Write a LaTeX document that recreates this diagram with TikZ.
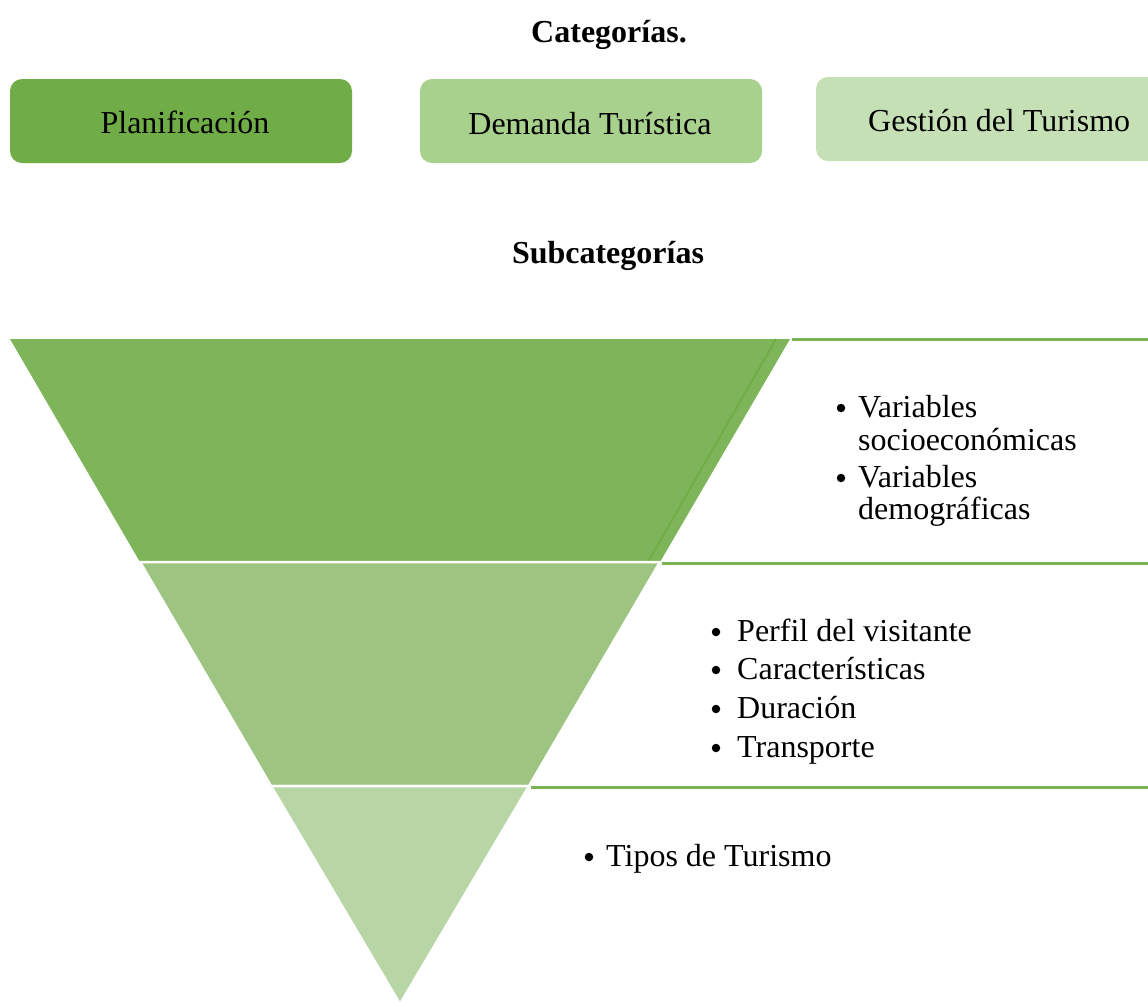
\documentclass[tikz,border=0pt]{standalone}
\usepackage{fontspec}
\usetikzlibrary{calc}
\setmainfont{Liberation Serif}
\definecolor{boxA}{HTML}{70AD47}
\definecolor{boxB}{HTML}{A9D18E}
\definecolor{boxC}{HTML}{C5E0B4}
\definecolor{bandA}{HTML}{7FB55A}
\definecolor{bandB}{HTML}{9DC480}
\definecolor{bandC}{HTML}{B8D6A5}
\definecolor{rule}{HTML}{7AB356}
\tikzset{
  txt/.style={inner sep=0pt, anchor=base west, font=\fontsize{32}{38}\selectfont},
  ctxt/.style={inner sep=0pt, anchor=base, font=\fontsize{32}{38}\selectfont},
  head/.style={inner sep=0pt, anchor=base, font=\fontsize{32}{38}\selectfont\bfseries},
  dot/.style={circle, fill=black, inner sep=0pt, minimum size=8.5pt},
  catbox/.style={rounded corners=12pt},
  band/.style={draw=white, line width=2.5pt},
  sep/.style={draw=rule, line width=3pt},
}
\begin{document}
\begin{tikzpicture}[x=1pt, y=-1pt]
\useasboundingbox (0,0) rectangle (1148,1005);
\clip (0,0) rectangle (1148,1005);
\fill[white] (0,0) rectangle (1148,1005);

% titles
\node[head] (cat) at (609,42) {Categorías.};
\node[head] (sub) at (608,263) {Subcategorías};

% category boxes
\fill[boxA, catbox] (10,79) rectangle (352,163);
\fill[boxB, catbox] (420,79) rectangle (762,163);
\fill[boxC, catbox] (816,77) rectangle (1180,161);
\node[ctxt] (c1) at (185,133) {Planificación};
\node[ctxt] (c2) at (590,134) {Demanda Turística};
\node[txt] (c3) at (868,131) {Gestión del Turismo};

% funnel bands
\coordinate (L0) at (10,339);
\coordinate (R0) at (790,339);
\coordinate (L1) at (140,562);
\coordinate (R1) at (660,562);
\coordinate (L2) at (271,786);
\coordinate (R2) at (529,786);
\coordinate (apex) at (400,1004);
\fill[bandA] (L0) -- (R0) -- (R1) -- (L1) -- cycle;
\draw[boxA, line width=2pt] (776,339) -- (648,562);
\draw[band, fill=bandB] (L1) -- (R1) -- (R2) -- (L2) -- cycle;
\draw[band, fill=bandC] (L2) -- (R2) -- (apex) -- cycle;
\draw[white, line width=2.5pt] (L1) -- (R1);

% separator lines
\coordinate (E0) at (1148,339);
\coordinate (E1) at (1148,563);
\coordinate (E2) at (1148,787);
\draw[sep] ($(R0)+(2,0)$) -- (E0);
\draw[sep] ($(R1)+(2,1)$) -- (E1);
\draw[sep] ($(R2)+(2,1)$) -- (E2);

% band 1 bullets
\node[dot] (b1a) at (841,408) {};
\node[txt] (t1a) at (858,417) {Variables};
\node[txt] (t1b) at (858,450) {socioeconómicas};
\node[dot] (b1c) at (841,478) {};
\node[txt] (t1c) at (858,487) {Variables};
\node[txt] (t1d) at (858,519) {demográficas};

% band 2 bullets
\node[dot] (b2a) at (716,632) {};
\node[txt] (t2a) at (737,641) {Perfil del visitante};
\node[dot] (b2b) at (716,670) {};
\node[txt] (t2b) at (737,679) {Características};
\node[dot] (b2c) at (716,709) {};
\node[txt] (t2c) at (737,718) {Duración};
\node[dot] (b2d) at (716,748) {};
\node[txt] (t2d) at (737,757) {Transporte};

% band 3 bullets
\node[dot] (b3a) at (589,857) {};
\node[txt] (t3a) at (606,866) {Tipos de Turismo};
\end{tikzpicture}
\end{document}
